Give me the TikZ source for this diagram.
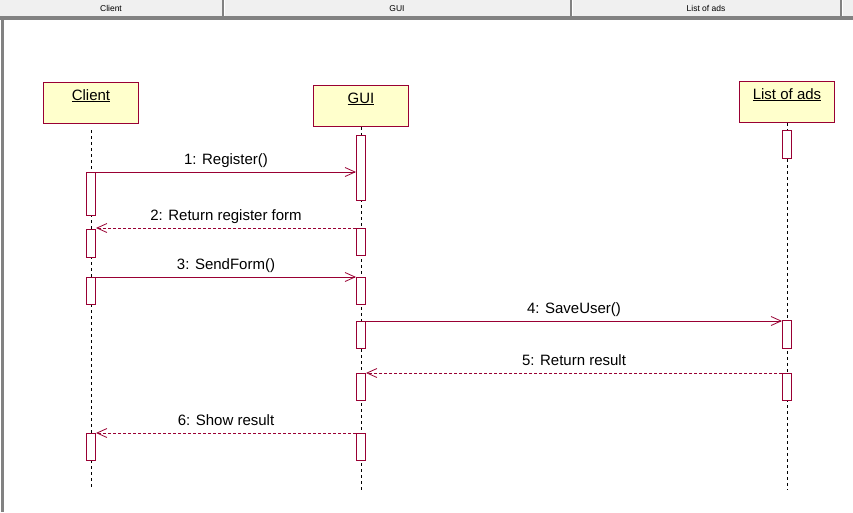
\documentclass[tikz,border=0pt]{standalone}
\usepackage{fontspec}
\setmainfont{Liberation Sans}
\usetikzlibrary{arrows.meta}
\definecolor{umlred}{RGB}{153,0,51}
\definecolor{umlfill}{RGB}{255,255,204}
\definecolor{hdrbg}{RGB}{240,240,240}
\definecolor{hdrline}{RGB}{130,130,130}
\begin{document}
\begin{tikzpicture}[x=1pt,y=-1pt,
 obj/.style={draw=umlred, fill=umlfill, line width=1pt, minimum width=95pt, minimum height=41pt, inner sep=0pt, anchor=north west},
 objlbl/.style={anchor=base, font=\fontsize{15}{17}\selectfont, inner sep=0pt},
 act/.style={draw=umlred, fill=white, line width=1pt, minimum width=9pt, inner sep=0pt, anchor=north},
 life/.style={draw=black, dash pattern=on 3pt off 3pt, line width=0.8pt},
 msg/.style={draw=umlred, line width=1pt, -{Straight Barb[length=10pt,width=9pt,line width=0.8pt]}},
 ret/.style={msg, dash pattern=on 3pt off 2pt},
 mlbl/.style={font=\fontsize{15}{17}\selectfont, anchor=base, inner sep=0pt, yshift=8pt},
 hdr/.style={font=\fontsize{8.5}{10}\selectfont, inner sep=0pt}]
\useasboundingbox (0,0) rectangle (853,512);
\fill[white] (0,0) rectangle (853,512);
% header
\fill[hdrbg] (0,0) rectangle (853,17);
\fill[hdrline] (0,16) rectangle (853,20);
\fill[hdrline] (1,16) rectangle (4,512);
\foreach \xx in {223,571,841}{
  \fill[hdrline] (\xx-1,0) rectangle (\xx+1,16);
  \fill[white] (\xx+1,0) rectangle (\xx+2,16);
}
\node[hdr] (hclient) at (111,8.5) {Client};
\node[hdr] (hgui) at (397,8.5) {GUI};
\node[hdr] (hlist) at (706,8.5) {List of ads};
% objects
\node[obj] (client) at (43,82) {};
\node[obj] (gui) at (313,85) {};
\node[obj] (list) at (739,81) {};
\node[objlbl] (clientl) at (91,100) {\underline{Client}};
\node[objlbl] (guil) at (361,103) {\underline{GUI}};
\node[objlbl] (listl) at (787,99) {\underline{List of ads}};
% lifelines
\coordinate (clientend) at (91,487);
\coordinate (guiend) at (361,490);
\coordinate (listend) at (787,490);
\draw[life] ([yshift=-6pt]client.south) -- (clientend);
\draw[life] (gui.south) -- (guiend);
\draw[life] (list.south) -- (listend);
% activations
\node[act, minimum height=43pt] (c1) at (91,172) {};
\node[act, minimum height=28pt] (c2) at (91,229) {};
\node[act, minimum height=27pt] (c3) at (91,277) {};
\node[act, minimum height=27pt] (c4) at (91,433) {};
\node[act, minimum height=65pt] (g1) at (361,135) {};
\node[act, minimum height=27pt] (g2) at (361,228) {};
\node[act, minimum height=27pt] (g3) at (361,277) {};
\node[act, minimum height=27pt] (g4) at (361,321) {};
\node[act, minimum height=27pt] (g5) at (361,373) {};
\node[act, minimum height=27pt] (g6) at (361,433) {};
\node[act, minimum height=28pt] (l1) at (787,130) {};
\node[act, minimum height=28pt] (l2) at (787,320) {};
\node[act, minimum height=27pt] (l3) at (787,373) {};
% messages
\draw[msg] (c1.north east) -- node[mlbl] (m1) {1: Register()} (c1.north east -| g1.west);
\draw[ret] (g2.north west) -- node[mlbl] (m2) {2: Return register form} (g2.north west -| c2.east);
\draw[msg] (c3.north east) -- node[mlbl] (m3) {3: SendForm()} (c3.north east -| g3.west);
\draw[msg] (g4.north east) -- node[mlbl] (m4) {4: SaveUser()} (g4.north east -| l2.west);
\draw[ret] (l3.north west) -- node[mlbl] (m5) {5: Return result} (l3.north west -| g5.east);
\draw[ret] (g6.north west) -- node[mlbl] (m6) {6: Show result} (g6.north west -| c4.east);
\end{tikzpicture}
\end{document}
